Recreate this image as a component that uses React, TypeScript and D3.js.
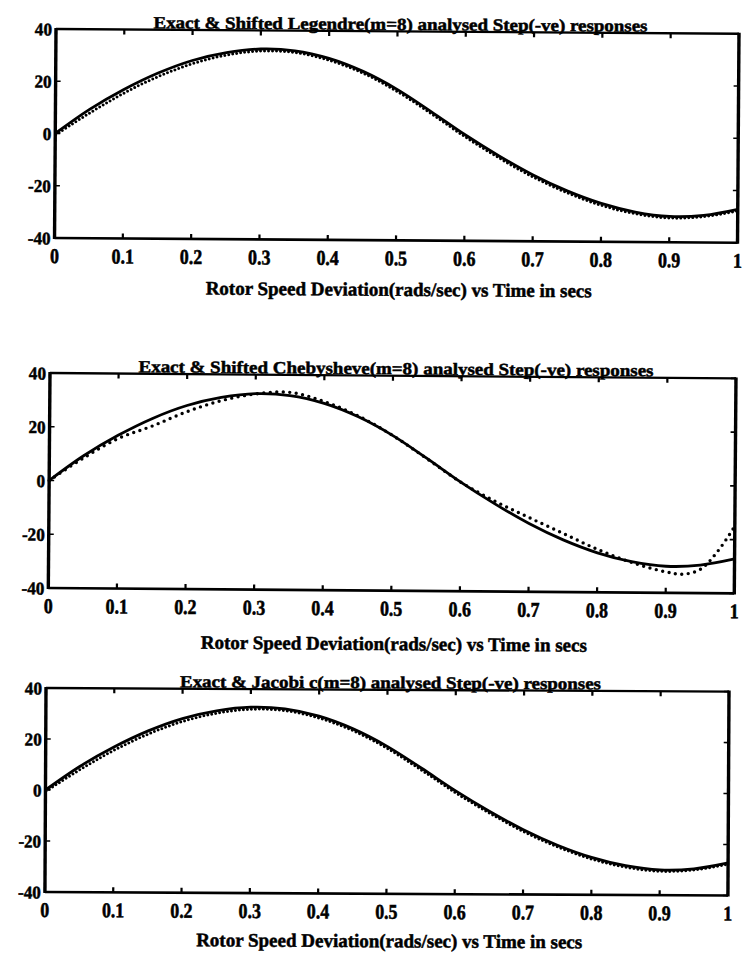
import React from "react";
import * as d3 from "d3";

// ---- data ----
const timeCoarse = [0, 0.05, 0.1, 0.15, 0.2, 0.25, 0.3, 0.35, 0.4, 0.45, 0.5, 0.55, 0.6, 0.65, 0.7, 0.75, 0.8, 0.85, 0.9, 0.95, 1];
const exactResponse = [0, 9.3, 17, 23.4, 28.3, 31.4, 32.9, 32.3, 29.5, 24.6, 17.8, 9.4, 0.6, -7.4, -14.6, -20.6, -25.3, -28.5, -30.1, -29.6, -27.2];
const legendreResponse = [0, 8.5, 16.2, 22.6, 27.6, 31, 32.6, 32.1, 29.2, 24.3, 17.4, 9, 0.2, -7.8, -15, -20.9, -25.6, -28.7, -30.2, -29.6, -27.3];
const jacobiResponse = [0, 8.6, 16.3, 22.7, 27.7, 31, 32.6, 32.1, 29.2, 24.3, 17.4, 9, 0.2, -7.7, -14.9, -20.8, -25.5, -28.6, -30.1, -29.5, -27.2];
const timeCheb = [0, 0.05, 0.1, 0.15, 0.2, 0.25, 0.3, 0.35, 0.4, 0.45, 0.5, 0.55, 0.6, 0.65, 0.7, 0.75, 0.8, 0.85, 0.9, 0.925, 0.95, 0.975, 1];
const chebyshevResponse = [0, 8.5, 15.8, 20.6, 26, 30.2, 32.8, 33.5, 30.2, 24.9, 17.8, 9.3, 0.6, -6.4, -12.4, -18.2, -24, -28.8, -32.2, -33, -31.2, -24.5, -15];

const xTicks = [0, 0.1, 0.2, 0.3, 0.4, 0.5, 0.6, 0.7, 0.8, 0.9, 1];
const xTickLabels = ["0", "0.1", "0.2", "0.3", "0.4", "0.5", "0.6", "0.7", "0.8", "0.9", "1"];
const yTicks = [40, 20, 0, -20, -40];
const yTickLabels = ["40", "20", "0", "-20", "-40"];

const titles = [
  "Exact & Shifted Legendre(m=8) analysed Step(-ve) responses",
  "Exact & Shifted Chebysheve(m=8) analysed Step(-ve) responses",
  "Exact & Jacobi c(m=8) analysed Step(-ve) responses",
];
const xAxisLabel = "Rotor Speed Deviation(rads/sec) vs Time in secs";

// ---- layout ----
const panels = [
  { left: 56, top: 29, width: 683, height: 209, rot: 0.4, titleW: 494, labelGap: 49, approxT: timeCoarse, approx: legendreResponse, dotted: false },
  { left: 50, top: 373, width: 686, height: 215, rot: 0.45, titleW: 515, labelGap: 53, approxT: timeCheb, approx: chebyshevResponse, dotted: true },
  { left: 46, top: 688, width: 683, height: 204, rot: 0.3, titleW: 421, labelGap: 47, approxT: timeCoarse, approx: jacobiResponse, dotted: false },
];

const FONT = "'Liberation Serif', 'DejaVu Serif', serif";

function Panel({ p, title }: { p: any; title: string }) {
  const x = d3.scaleLinear().domain([0, 1]).range([0, p.width]);
  const y = d3.scaleLinear().domain([-40, 40]).range([p.height, 0]);
  const line = d3
    .line<[number, number]>()
    .x((d) => x(d[0]))
    .y((d) => y(d[1]))
    .curve(d3.curveCatmullRom.alpha(0.5));
  const exactPath = line(timeCoarse.map((t, i) => [t, exactResponse[i]]) as [number, number][]) || "";
  const approxPath = line(p.approxT.map((t: number, i: number) => [t, p.approx[i]]) as [number, number][]) || "";
  const cx = p.width / 2 + 3;
  return (
    <g transform={`translate(${p.left},${p.top}) rotate(${p.rot})`}>
      {/* approximation dotted */}
      <path
        d={approxPath}
        fill="none"
        stroke="#000"
        strokeWidth={p.dotted ? 3.4 : 3}
        strokeDasharray={p.dotted ? "0,6.5" : "0,4"}
        strokeLinecap="round"
        transform={p.dotted ? "" : "translate(0.5,1.3)"}
      />
      {/* exact solid */}
      <path d={exactPath} fill="none" stroke="#000" strokeWidth={2.8} strokeLinejoin="round" />
      {/* frame */}
      <line x1={0} x2={p.width} y1={0} y2={0} stroke="#000" strokeWidth={2.4} />
      <line x1={0} x2={p.width} y1={p.height} y2={p.height} stroke="#000" strokeWidth={2.6} />
      <line x1={0} x2={0} y1={-1} y2={p.height + 1} stroke="#000" strokeWidth={3.4} />
      <line x1={p.width} x2={p.width} y1={-1} y2={p.height + 1} stroke="#000" strokeWidth={3.4} />
      {/* ticks */}
      {xTicks.map((t) => (
        <g key={"xt" + t}>
          <line x1={x(t)} x2={x(t)} y1={0} y2={5} stroke="#000" strokeWidth={2.2} />
          <line x1={x(t)} x2={x(t)} y1={p.height} y2={p.height - 5} stroke="#000" strokeWidth={2.2} />
        </g>
      ))}
      {yTicks.map((v) => (
        <g key={"yt" + v}>
          <line x1={0} x2={5} y1={y(v)} y2={y(v)} stroke="#000" strokeWidth={1.6} />
          <line x1={p.width} x2={p.width - 5} y1={y(v)} y2={y(v)} stroke="#000" strokeWidth={1.6} />
        </g>
      ))}
      {/* x tick labels */}
      {xTicks.map((t, i) => (
        <g key={"xl" + t} transform={`translate(${x(t)},${p.height + 25}) scale(0.85,1)`}>
          <text textAnchor="middle" fontFamily={FONT} fontWeight="bold" fontSize={21} fill="#000" stroke="#000" strokeWidth={0.6}>
            {xTickLabels[i]}
          </text>
        </g>
      ))}
      {/* y tick labels */}
      {yTicks.map((v, i) => (
        <g key={"yl" + v} transform={`translate(-4,${y(v) + 6.5}) scale(0.95,1)`}>
          <text textAnchor="end" fontFamily={FONT} fontWeight="bold" fontSize={18} fill="#000" stroke="#000" strokeWidth={0.5}>
            {yTickLabels[i]}
          </text>
        </g>
      ))}
      {/* title */}
      <text
        x={cx - p.titleW / 2}
        y={-1.5}
        textLength={p.titleW}
        lengthAdjust="spacingAndGlyphs"
        fontFamily={FONT}
        fontWeight="bold"
        fontSize={17}
        fill="#000"
        stroke="#000"
        strokeWidth={0.5}
      >
        {title}
      </text>
      {/* x label */}
      <text
        x={cx - 193}
        y={p.height + p.labelGap + 6.5}
        textLength={386}
        lengthAdjust="spacingAndGlyphs"
        fontFamily={FONT}
        fontWeight="bold"
        fontSize={19}
        fill="#000"
        stroke="#000"
        strokeWidth={0.5}
      >
        {xAxisLabel}
      </text>
    </g>
  );
}

export default function App() {
  return (
    <svg
      width={744}
      height={957}
      viewBox="0 0 744 957"
      style={{ position: "absolute", left: 0, top: 0, background: "#fff" }}
    >
      <rect x={0} y={0} width={744} height={957} fill="#fff" />
      {panels.map((p, i) => (
        <Panel key={i} p={p} title={titles[i]} />
      ))}
    </svg>
  );
}
